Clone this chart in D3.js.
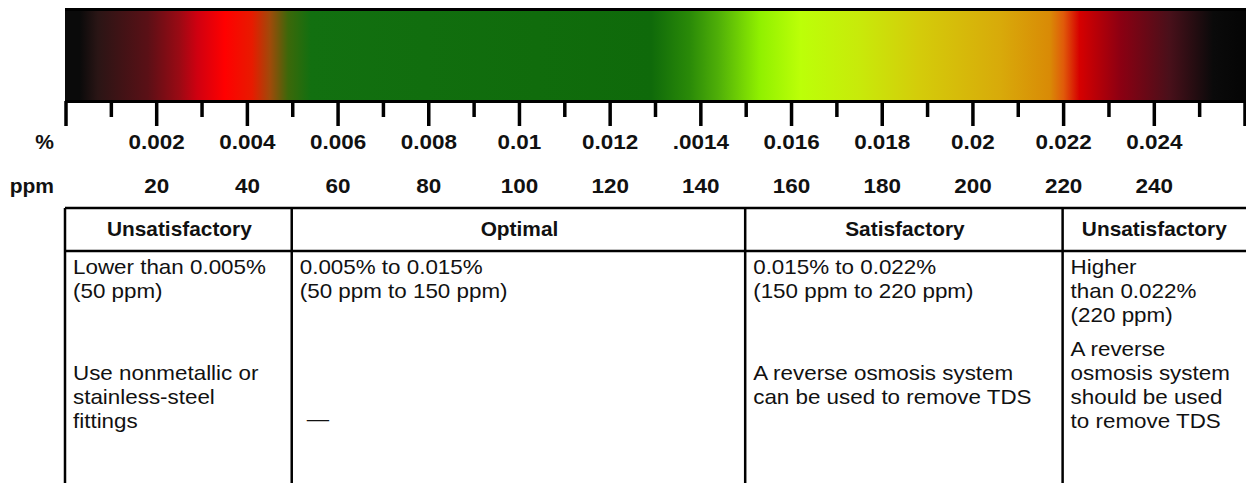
<!DOCTYPE html>
<html>
<head>
<meta charset="utf-8">
<script src="https://cdn.jsdelivr.net/npm/d3@7"></script>
<style>
  html, body { margin: 0; padding: 0; background: #fff; }
  svg { display: block; font-family: 'Liberation Sans', Arial, Helvetica, sans-serif; }
</style>
</head>
<body>
<div id="chart"></div>
<script>
// scale values (ppm) and their labels
const ppmDomain = [0, 260]
const ppmMajor = [20, 40, 60, 80, 100, 120, 140, 160, 180, 200, 220, 240]
const pctLabels = ['0.002', '0.004', '0.006', '0.008', '0.01', '0.012', '.0014', '0.016', '0.018', '0.02', '0.022', '0.024']
const ppmLabels = ['20', '40', '60', '80', '100', '120', '140', '160', '180', '200', '220', '240']

// colour of the bar along the ppm axis
const stopPpm = [0, 3, 7, 18, 25, 29, 35, 41, 45, 49, 54, 129, 137.5, 144, 153, 162, 175, 188, 206, 217, 220, 223.5, 232.5, 243.5, 253, 260]
const stopColor = ['#0a0a0a', '#0a0a0a', '#2a1515', '#5a1016', '#9a0a14', '#d00010', '#ff0000', '#e81a00', '#a04a0a', '#3c680a', '#127010',
  '#0f6a0a', '#2a8a08', '#50b008', '#90f000', '#bcff08', '#c8ea0a', '#d4cc0a', '#d8aa0a', '#d98a06', '#e05a0a', '#d60000', '#8c0012', '#48101a', '#0a0a0a', '#050505']

// table bands
const bandEdges = [0, 50, 150, 220, 260]
const bandTitles = ['Unsatisfactory', 'Optimal', 'Satisfactory', 'Unsatisfactory']
const bandRange = [
  ['Lower than 0.005%', '(50 ppm)'],
  ['0.005% to 0.015%', '(50 ppm to 150 ppm)'],
  ['0.015% to 0.022%', '(150 ppm to 220 ppm)'],
  ['Higher', 'than 0.022%', '(220 ppm)']
]
const bandAdvice = [
  ['Use nonmetallic or', 'stainless-steel', 'fittings'],
  ['—'],
  ['A reverse osmosis system', 'can be used to remove TDS'],
  ['A reverse', 'osmosis system', 'should be used', 'to remove TDS']
]

const width = 1246, height = 483
const barTop = 10, barBottom = 101
const tableTop = 208, headBottom = 251

const svg = d3.select('#chart').append('svg')
  .attr('width', width)
  .attr('height', height)

const x = d3.scaleLinear().domain(ppmDomain).range([66, 1245])

// gradient
const grad = svg.append('defs').append('linearGradient')
  .attr('id', 'tds')
  .attr('gradientUnits', 'userSpaceOnUse')
  .attr('x1', x(ppmDomain[0])).attr('x2', x(ppmDomain[1]))
  .attr('y1', 0).attr('y2', 0)
grad.selectAll('stop')
  .data(stopPpm)
  .enter().append('stop')
    .attr('offset', d => (d - ppmDomain[0]) / (ppmDomain[1] - ppmDomain[0]))
    .attr('stop-color', (d, i) => stopColor[i])

svg.append('rect')
  .attr('x', x(0) - 1)
  .attr('y', barTop)
  .attr('width', x(260) - x(0) + 2)
  .attr('height', barBottom - barTop)
  .attr('fill', 'url(#tds)')

svg.append('line')
  .attr('x1', x(0) - 1).attr('x2', width)
  .attr('y1', barTop - 0.5).attr('y2', barTop - 0.5)
  .attr('stroke', '#000').attr('stroke-width', 3)
svg.append('line')
  .attr('x1', x(0) - 1).attr('x2', width)
  .attr('y1', barBottom + 0.5).attr('y2', barBottom + 0.5)
  .attr('stroke', '#000').attr('stroke-width', 3)

// ticks every 10 ppm, longer every 20
const tickVals = d3.range(ppmDomain[0], ppmDomain[1] + 1, 10)
svg.append('g')
  .selectAll('line')
  .data(tickVals)
  .enter().append('line')
    .attr('x1', d => x(d)).attr('x2', d => x(d))
    .attr('y1', barBottom)
    .attr('y2', d => (d % 20 === 0 || d === ppmDomain[1]) ? 126 : 117)
    .attr('stroke', '#000')
    .attr('stroke-width', 3.5)

// labels
function stretchText (sel, sx) {
  return sel.attr('transform', d => `translate(${d.x},${d.y}) scale(${sx},1)`)
}

const labelRows = [
  { name: '%', y: 149, values: pctLabels },
  { name: 'ppm', y: 193, values: ppmLabels }
]
labelRows.forEach(row => {
  const g = svg.append('g')
    .attr('font-weight', 'bold')
    .attr('font-size', 21)
    .attr('fill', '#111')
  g.append('text')
    .datum({ x: 54, y: row.y })
    .attr('text-anchor', 'end')
    .call(stretchText, 1.0)
    .text(row.name)
  g.selectAll('text.v')
    .data(row.values.map((v, i) => ({ v, x: x(ppmMajor[i]), y: row.y })))
    .enter().append('text')
      .attr('class', 'v')
      .attr('text-anchor', 'middle')
      .call(stretchText, 1.07)
      .text(d => d.v)
})

// table
const table = svg.append('g').attr('stroke', '#000').attr('stroke-width', 2.5)
table.append('line')
  .attr('x1', x(0) - 1).attr('x2', width)
  .attr('y1', tableTop).attr('y2', tableTop)
table.append('line')
  .attr('x1', x(0) - 1).attr('x2', width)
  .attr('y1', headBottom).attr('y2', headBottom)
table.selectAll('line.col')
  .data(bandEdges.slice(0, -1))
  .enter().append('line')
    .attr('class', 'col')
    .attr('x1', d => x(d) - 1).attr('x2', d => x(d) - 1)
    .attr('y1', tableTop).attr('y2', height)

svg.append('g')
  .attr('font-weight', 'bold')
  .attr('font-size', 19.5)
  .attr('fill', '#111')
  .selectAll('text')
  .data(bandTitles.map((t, i) => ({ t, x: (x(bandEdges[i]) + x(bandEdges[i + 1])) / 2, y: 236 })))
  .enter().append('text')
    .attr('text-anchor', 'middle')
    .call(stretchText, 1.07)
    .text(d => d.t)

// baselines of the body lines, per column
const rangeY = [[274, 298], [274, 298], [274, 298], [274, 298, 322]]
const adviceY = [[380, 404, 428], [426], [380, 404], [356, 380, 404, 428]]

const body = svg.append('g')
  .attr('font-size', 20)
  .attr('fill', '#111')
const cells = []
bandRange.forEach((lines, i) => {
  lines.forEach((t, j) => cells.push({ t, x: x(bandEdges[i]) + 7, y: rangeY[i][j] }))
})
bandAdvice.forEach((lines, i) => {
  lines.forEach((t, j) => cells.push({ t, x: x(bandEdges[i]) + (i === 1 ? 14 : 7), y: adviceY[i][j] }))
})
body.selectAll('text')
  .data(cells)
  .enter().append('text')
    .call(stretchText, 1.12)
    .text(d => d.t)
</script>
</body>
</html>
